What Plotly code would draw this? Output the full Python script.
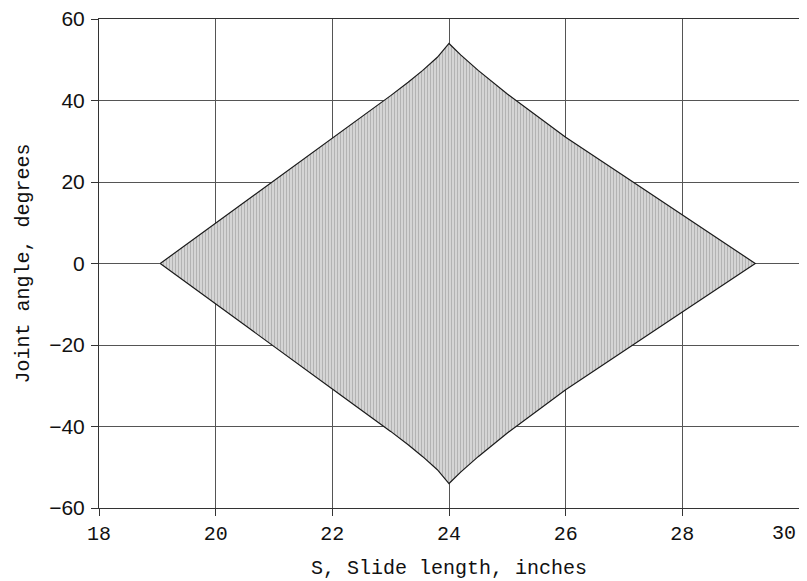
import plotly.graph_objects as go

# Boundary of the feasible region
upper_x = [19.05, 20.0, 21.0, 22.0, 23.0, 23.3, 23.55, 23.8, 24.0, 24.2, 24.5, 25.0, 26.0, 27.0, 28.0, 29.25]
upper_y = [0.0, 9.9, 20.3, 30.8, 41.2, 44.5, 47.4, 50.6, 54.0, 51.2, 47.4, 41.6, 31.0, 21.5, 11.9, 0.0]
lower_x = [29.25, 28.0, 27.0, 26.0, 25.0, 24.5, 24.2, 24.0, 23.8, 23.55, 23.3, 23.0, 22.0, 21.0, 20.0, 19.05]
lower_y = [0.0, -11.9, -21.5, -31.0, -41.6, -47.4, -51.2, -54.0, -50.6, -47.4, -44.5, -41.2, -30.8, -20.3, -9.9, 0.0]

x_ticks = [18, 20, 22, 24, 26, 28, 30]
x_tick_labels = ["18", "20", "22", "24", "26", "28", "30"]
y_ticks = [-60, -40, -20, 0, 20, 40, 60]
y_tick_labels = ["\u221260", "\u221240", "\u221220", "0", "20", "40", "60"]

MONO = "Liberation Mono, Courier New, monospace"
SANS = "Liberation Sans, Arial, sans-serif"

fig = go.Figure()
fig.add_trace(go.Scatter(
    x=upper_x + lower_x[1:],
    y=upper_y + lower_y[1:],
    mode="lines",
    fill="toself",
    fillcolor="#d0d0d0",
    fillpattern=dict(shape="|", fgcolor="#8a8a8a", bgcolor="#dcdcdc", size=3, solidity=0.45),
    line=dict(color="#1a1a1a", width=1.2),
    hoverinfo="skip",
    showlegend=False,
))

axis_common = dict(
    showgrid=True, gridcolor="#555555", gridwidth=1,
    showline=True, linecolor="#333333", linewidth=1, mirror=True,
    ticks="outside", ticklen=7, tickcolor="#333333",
    zeroline=False, automargin=False, ticklabeloverflow="allow",
)

# last x tick label is placed right-aligned at the edge (as in the reference) so it is not clipped
ticktext_x = x_tick_labels[:-1] + [""]

# The page has an 8px body margin, so the figure is sized/offset to compensate
fig.update_layout(
    width=799, height=573,
    margin=dict(l=91, r=8, t=11, b=73),
    paper_bgcolor="white", plot_bgcolor="white",
    xaxis=dict(range=[18, 30], tickvals=x_ticks, ticktext=ticktext_x,
               tickfont=dict(family=MONO, size=20, color="#111111"),
               ticklabelstandoff=0,
               title=dict(text="S, Slide length, inches", standoff=14,
                          font=dict(family=MONO, size=20, color="#111111")),
               **axis_common),
    yaxis=dict(range=[-60, 60], tickvals=y_ticks, ticktext=y_tick_labels,
               tickfont=dict(family=SANS, size=21, color="#111111"),
               ticklabelstandoff=2,
               title=dict(text="Joint angle, degrees", standoff=14,
                          font=dict(family=MONO, size=20, color="#111111")),
               **axis_common),
    annotations=[dict(
        x=x_ticks[-1], xref="x", y=0, yref="paper",
        text=x_tick_labels[-1], showarrow=False,
        xanchor="right", yanchor="middle", xshift=-1, yshift=-25,
        font=dict(family=MONO, size=20, color="#111111"),
    )],
)

fig.write_html("out.html")
